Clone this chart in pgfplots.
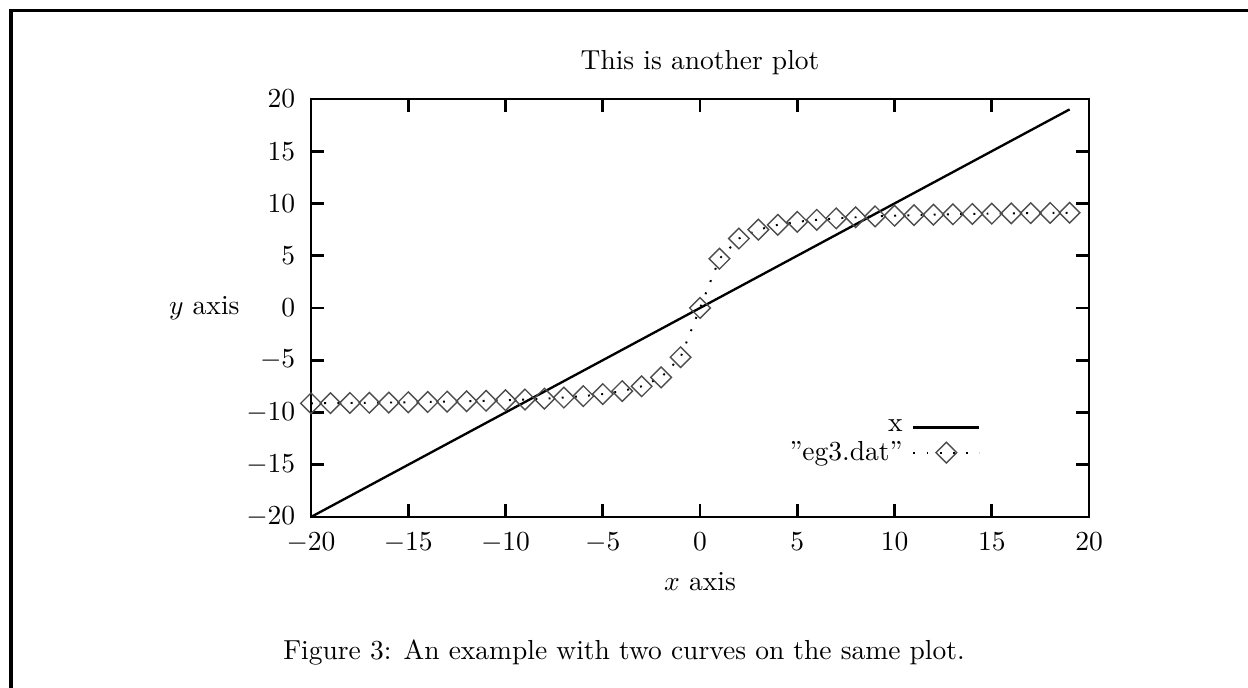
\documentclass[border=0pt]{standalone}
\usepackage{pgfplots}
\pgfplotsset{compat=1.18}
\usepackage{pgfplotstable}
\pgfplotstableread{
x y
-20 -9.125
-19 -9.109
-18 -9.092
-17 -9.072
-16 -9.050
-15 -9.025
-14 -8.997
-13 -8.964
-12 -8.926
-11 -8.881
-10 -8.827
-9 -8.761
-8 -8.679
-7 -8.573
-6 -8.434
-5 -8.241
-4 -7.955
-3 -7.494
-2 -6.643
-1 -4.712
0 0
1 4.712
2 6.643
3 7.494
4 7.955
5 8.241
6 8.434
7 8.573
8 8.679
9 8.761
10 8.827
11 8.881
12 8.926
13 8.964
14 8.997
15 9.025
16 9.050
17 9.072
18 9.092
19 9.109
}\egdata
\pgfplotstableread{
x y
-20 -20
19 19
}\xline
\begin{document}
\begin{tikzpicture}[x=0.3636pt,y=0.3636pt]
\path[use as bounding box] (0,0) rectangle (1248,688);
\draw[line width=1.1pt] (11,0) -- (11,677) -- (1248,677);
\begin{axis}[
  at={(113.08pt,62.18pt)}, anchor=south west,
  scale only axis, width=282.9pt, height=152.0pt,
  xmin=-20, xmax=20, ymin=-20, ymax=20,
  xtick={-20,-15,...,20}, ytick={-20,-15,...,20},
  axis line style={line width=1pt},
  major tick style={line width=1pt, black},
  major tick length=4.7pt,
  xticklabel style={yshift=-2.2pt},
  yticklabel style={xshift=-2.2pt},
  clip=false,
  title={This is another plot},
  title style={at={(axis description cs:0.5,1)}, anchor=base, yshift=4.8pt, inner sep=0pt},
  xlabel={$x$ axis},
  xlabel style={at={(axis description cs:0.5,0)}, anchor=base, yshift=-26.9pt, inner sep=0pt},
  ylabel={$y$ axis},
  ylabel style={rotate=-90, at={(axis description cs:0,0.5)}, anchor=east, xshift=-25.8pt, inner sep=0pt},
  legend plot pos=right,
  legend cell align=right,
  legend style={draw=none, fill=none, at={(axis cs:14.45,-10.1)}, anchor=north east, inner sep=0pt, row sep=-2pt, column sep=1.5pt},
  legend image code/.code={\draw[mark repeat=2,mark phase=2,#1] plot coordinates {(0pt,0pt)(12pt,0pt)(24pt,0pt)};},
]
\addplot[black, line width=0.85pt, mark=none] table[x=x,y=y] {\xline};
\addlegendentry{x}
\addplot[black, line width=0.7pt, dash pattern=on 0.7pt off 4.1pt,
  mark=square, mark size=2.65pt,
  mark options={solid, rotate=45, draw=black!70, line width=0.5pt, fill=none}]
  table[x=x,y=y] {\egdata};
\addlegendentry{"eg3.dat"}
\end{axis}
\node[anchor=base, inner sep=0pt] at (624,28) {Figure 3: An example with two curves on the same plot.};
\end{tikzpicture}
\end{document}
